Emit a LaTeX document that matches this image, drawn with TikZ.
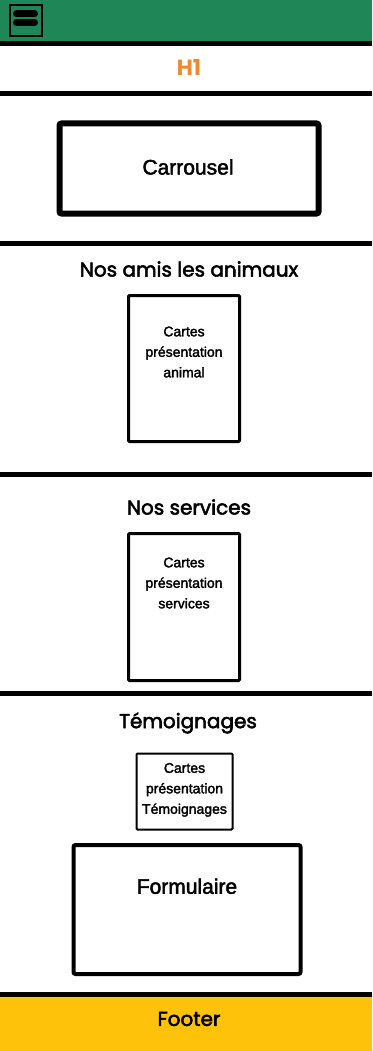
\documentclass[tikz,border=0pt]{standalone}
\usepackage{fontspec}
\setmainfont{Poppins}
\newfontfamily\titrefont[FakeBold=2.6]{Poppins}
\newfontfamily\cardfont[FakeBold=2.2]{Liberation Sans}
\usetikzlibrary{positioning}

\definecolor{barvert}{RGB}{31,134,88}
\definecolor{titreorange}{RGB}{240,137,46}
\definecolor{piedjaune}{RGB}{255,194,10}

\tikzset{
  sep/.style={line width=5pt},
  bloc/.style={draw, line width=6pt, rounded corners=2pt},
  carte/.style={draw, line width=3pt, rounded corners=1pt},
  titre/.style={font=\titrefont\fontsize{20}{22}\selectfont},
  txtbloc/.style={font=\cardfont\fontsize{21}{24}\selectfont},
  txtcarte/.style={align=center, font=\cardfont\fontsize{14}{20.5}\selectfont}
}

\begin{document}
\begin{tikzpicture}[x=1pt, y=-1pt]
		\useasboundingbox (0,0) rectangle (372,1051);

		% bandeau du haut et pied de page
		\fill[barvert] (0,0) rectangle (372,43);
		\fill[piedjaune] (0,994) rectangle (372,1051);

		% menu burger
		\node[draw, line width=1.5pt, minimum width=32pt, minimum height=31pt, inner sep=0pt] (M) at (26,20.5) {};
		\draw[line width=7pt, line cap=round] (16.5,14) -- (34.5,14);
		\draw[line width=7pt, line cap=round] (16.5,22.5) -- (34.5,22.5);

		% separateurs
		\draw[sep] (0,43.5) -- (372,43.5);
		\draw[sep] (0,93.5) -- (372,93.5);
		\draw[sep] (0,243.5) -- (372,243.5);
		\draw[sep] (0,474.5) -- (372,474.5);
		\draw[sep] (0,693.5) -- (372,693.5);
		\draw[sep] (0,994) -- (372,994);

		\begin{scope}[every node/.style={titre}]
			\node[text=titreorange, font=\bfseries\fontsize{22}{22}\selectfont] (H) at (189,67) {H1};
			\node (A) at (189,269) {Nos amis les animaux};
			\node (S) at (189,507) {Nos services};
			\node (T) at (188,723) {Témoignages};
			\node (F) at (189,1019) {Footer};
		\end{scope}

		% carrousel
		\node[bloc, minimum width=259pt, minimum height=90pt] (C) at (189,168.5) {};
		\node[txtbloc] (Ct) at (188,167) {Carrousel};

		% cartes
		\node[carte, minimum width=111pt, minimum height=146pt] (C1) at (184,368.5) {};
		\node[txtcarte, below=29pt of C1.north] (C1t) {Cartes\\présentation\\animal};

		\node[carte, minimum width=111pt, minimum height=147pt] (C2) at (184,607) {};
		\node[txtcarte, below=22pt of C2.north] (C2t) {Cartes\\présentation\\services};

		\node[carte, minimum width=96pt, minimum height=76pt, line width=2pt] (C3) at (184.5,791.5) {};
		\node[txtcarte, below=7pt of C3.north] (C3t) {Cartes\\présentation\\Témoignages};

		% formulaire
		\node[bloc, line width=4pt, minimum width=227pt, minimum height=129pt] (Fo) at (187,909.5) {};
		\node[txtbloc, below=32pt of Fo.north] (Fot) {Formulaire};
\end{tikzpicture}
\end{document}
